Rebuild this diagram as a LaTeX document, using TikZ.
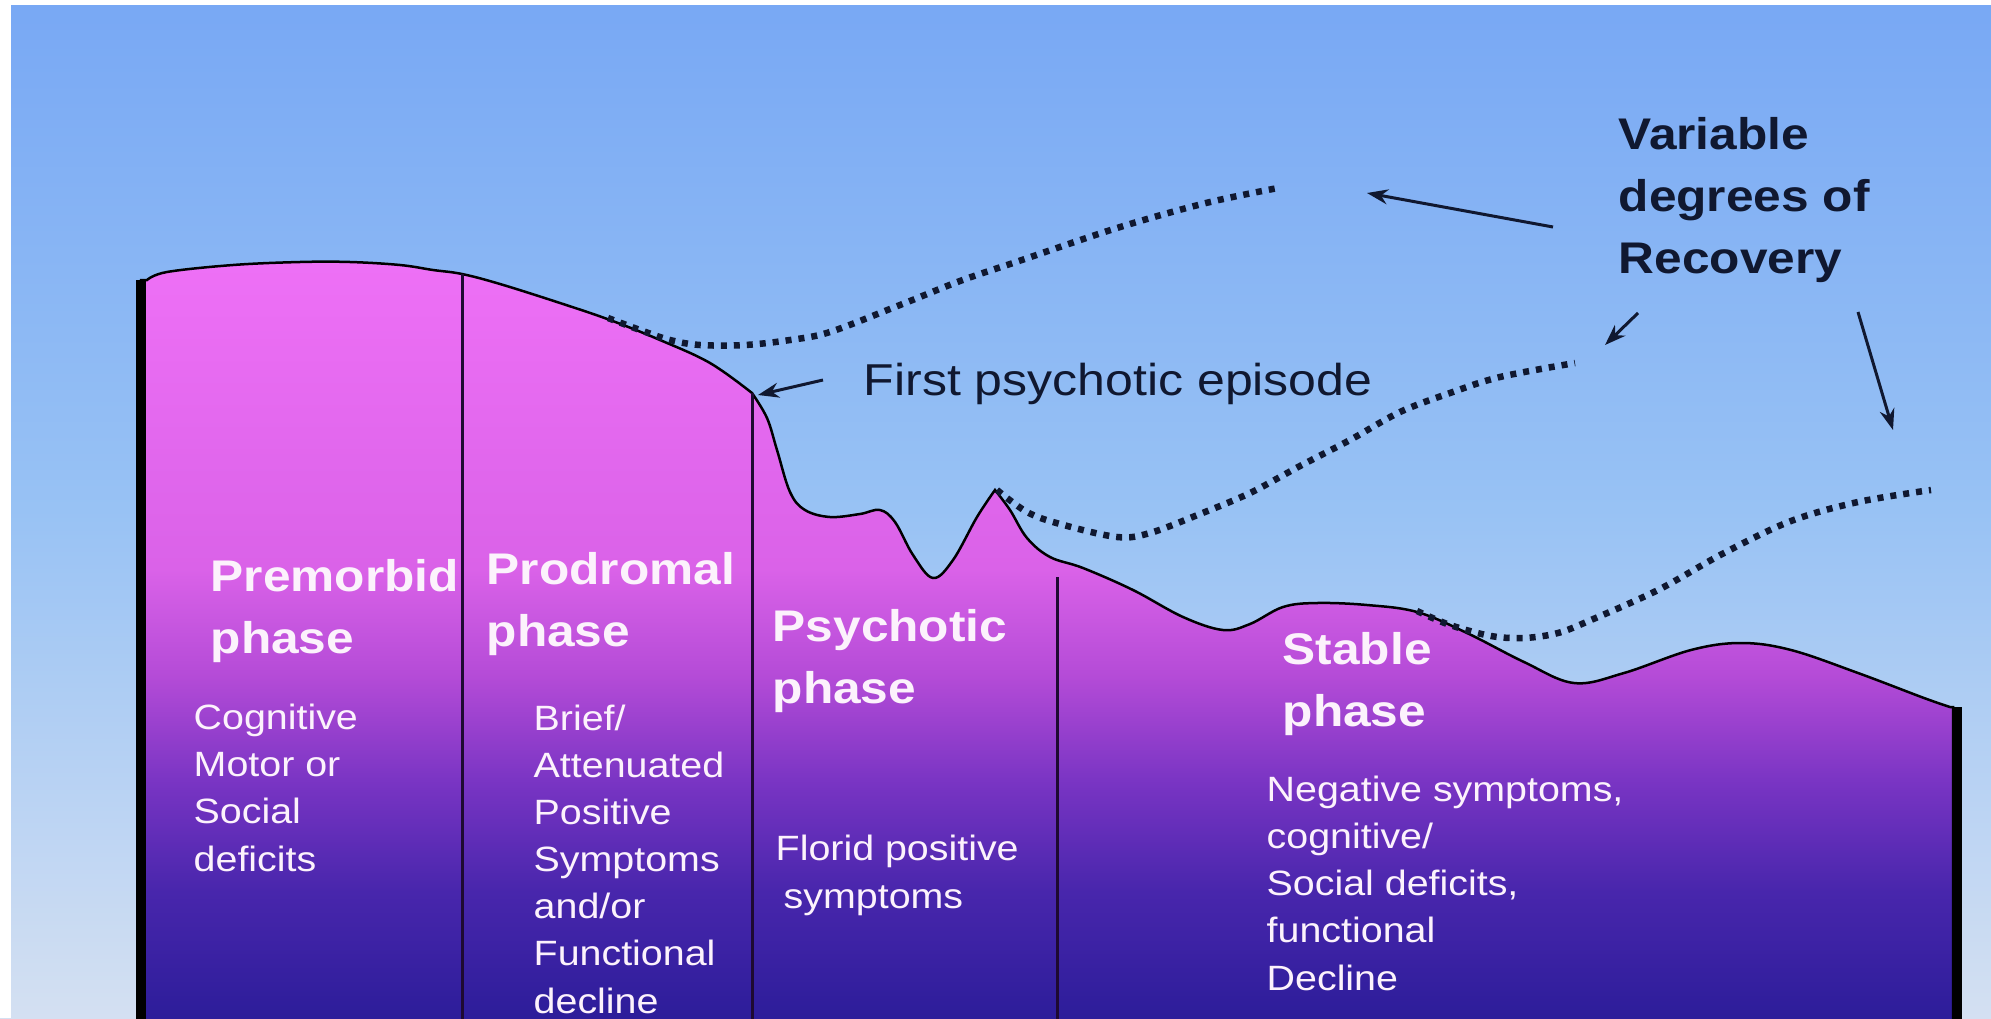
\documentclass[tikz,border=0pt]{standalone}
\usepackage{fontspec}
\setmainfont{Liberation Sans}[FakeStretch=1.12]
\usetikzlibrary{arrows.meta}
\definecolor{skytop}{RGB}{120,168,244}
\definecolor{skymid}{RGB}{152,194,244}
\definecolor{skybot}{RGB}{212,224,242}
\definecolor{ph5}{RGB}{238,112,246}
\definecolor{ph4}{RGB}{218,98,232}
\definecolor{ph3}{RGB}{180,75,215}
\definecolor{ph2}{RGB}{120,52,195}
\definecolor{ph1}{RGB}{72,38,172}
\definecolor{ph0}{RGB}{42,28,152}
\definecolor{inkdark}{RGB}{16,24,48}
\definecolor{txtwhite}{RGB}{252,242,252}
\definecolor{divcol}{RGB}{30,10,50}
\pgfdeclareverticalshading{skyshade}{100bp}{color(0bp)=(skybot); color(25bp)=(skybot); color(50bp)=(skymid); color(75bp)=(skytop); color(100bp)=(skytop)}
\pgfdeclareverticalshading{phaseshade}{100bp}{color(0bp)=(ph0); color(25bp)=(ph0); color(34bp)=(ph1); color(41bp)=(ph2); color(48bp)=(ph3); color(55bp)=(ph4); color(75bp)=(ph5); color(100bp)=(ph5)}
\tikzset{
  outline/.style={line width=0.025cm, draw=black},
  divider/.style={line width=0.03cm, draw=divcol},
  edgeline/.style={line width=0.09cm, draw=black},
  recov/.style={line width=0.065cm, draw=inkdark, dash pattern=on 0.06cm off 0.07cm},
  arr/.style={line width=0.03cm, draw=inkdark, -{Stealth[length=0.21cm,width=0.15cm]}},
  title/.style={anchor=base west, inner sep=0pt, text=txtwhite, align=left,
    font=\fontsize{12.6pt}{17.35pt}\selectfont\bfseries},
  body/.style={anchor=base west, inner sep=0pt, text=txtwhite, align=left,
    font=\fontsize{10pt}{13.4pt}\selectfont},
  darklabel/.style={anchor=base west, inner sep=0pt, text=inkdark, align=left,
    font=\fontsize{12.7pt}{15pt}\selectfont},
  darkbold/.style={anchor=base west, inner sep=0pt, text=inkdark, align=left,
    font=\fontsize{12.6pt}{17.5pt}\selectfont\bfseries}
}
\begin{document}
\begin{tikzpicture}[x=0.01cm, y=-0.01cm]
\useasboundingbox (0,0) rectangle (1991,1018);
% background
\shade[shading=skyshade] (0,0) rectangle (1991,1018);
\fill[white] (0,0) rectangle (11,1018);
\fill[white] (0,0) rectangle (1991,5);
% phase shape
\shadedraw[shading=phaseshade, outline]
  (141,1030) -- (141,280) -- (147,280)
  -- plot[smooth, tension=0.6] coordinates {(147,280) (167,272) (233,265) (300,262) (350,262) (400,265) (433,270) (462,274) (500,284) (560,303) (610,320) (660,340) (710,363) (752,393)}
  -- plot[smooth, tension=0.6] coordinates {(752,393) (767,418) (777,450) (790,492) (805,510) (830,517) (860,514) (880,510) (895,522) (913,555) (933,578) (953,560) (977,517) (995,490)}
  -- plot[smooth, tension=0.6] coordinates {(995,490) (1010,510) (1027,538) (1050,557) (1083,568) (1133,590) (1183,617) (1223,630) (1250,624) (1283,607) (1317,603) (1367,605) (1417,612) (1467,633) (1524,662) (1574,683) (1624,673) (1691,650) (1741,643) (1791,650) (1858,673) (1924,698) (1950,707)}
  -- (1953,707) -- (1953,1030) -- cycle;
% dividers and edges
\draw[divider] (462,274) -- (462,1030);
\draw[divider] (752,393) -- (752,1030);
\draw[divider] (1057,577) -- (1057,1030);
\draw[edgeline] (141,280) -- (141,1030);
\draw[edgeline] (1957,707) -- (1957,1030);
% recovery trajectories
\draw[recov] plot[smooth, tension=0.55] coordinates {(608,318) (640,330) (670,340) (700,345) (745,345) (790,340) (830,332) (900,305) (960,281) (1016,262) (1117,228) (1206,203) (1278,188)};
\draw[recov] plot[smooth, tension=0.55] coordinates {(997,490) (1027,512) (1060,524) (1117,537) (1150,533) (1200,514) (1250,493) (1300,466) (1350,440) (1400,412) (1450,393) (1500,377) (1575,363)};
\draw[recov] plot[smooth, tension=0.55] coordinates {(1417,611) (1450,625) (1491,636) (1524,638) (1558,633) (1591,620) (1658,590) (1724,553) (1791,521) (1858,502) (1931,490)};
% texts (anchor = baseline of the last line)
\node[title] (premorbid) at (210,653) {Premorbid\\phase};
\node[title] (prodromal) at (486,646) {Prodromal\\phase};
\node[title] (psychotic) at (772,703) {Psychotic\\phase};
\node[title] (stable) at (1282,726) {Stable\\phase};
\node[body] (premorbidtxt) at (193,871) {Cognitive\\Motor or\\Social\\deficits};
\node[body] (prodromaltxt) at (533,1013) {Brief/\\Attenuated\\Positive\\Symptoms\\and/or\\Functional\\decline};
\node[body] (psychotictxt) at (775,908) {Florid positive\\\hspace*{0.08cm}symptoms};
\node[body] (stabletxt) at (1266,990) {Negative symptoms,\\cognitive/\\Social deficits,\\functional\\Decline};
\node[darklabel] (first) at (863,395) {First psychotic episode};
\node[darkbold] (recovery) at (1618,273) {Variable\\degrees of\\Recovery};
% arrows
\coordinate (fpA) at (823,380);
\coordinate (fpB) at (758,395);
\coordinate (r1A) at (1553,227);
\coordinate (r1B) at (1367,193);
\coordinate (r2A) at (1638,313);
\coordinate (r2B) at (1605,345);
\coordinate (r3A) at (1858,312);
\coordinate (r3B) at (1893,430);
\draw[arr] (fpA) -- (fpB);
\draw[arr] (r1A) -- (r1B);
\draw[arr] (r2A) -- (r2B);
\draw[arr] (r3A) -- (r3B);
\end{tikzpicture}
\end{document}
